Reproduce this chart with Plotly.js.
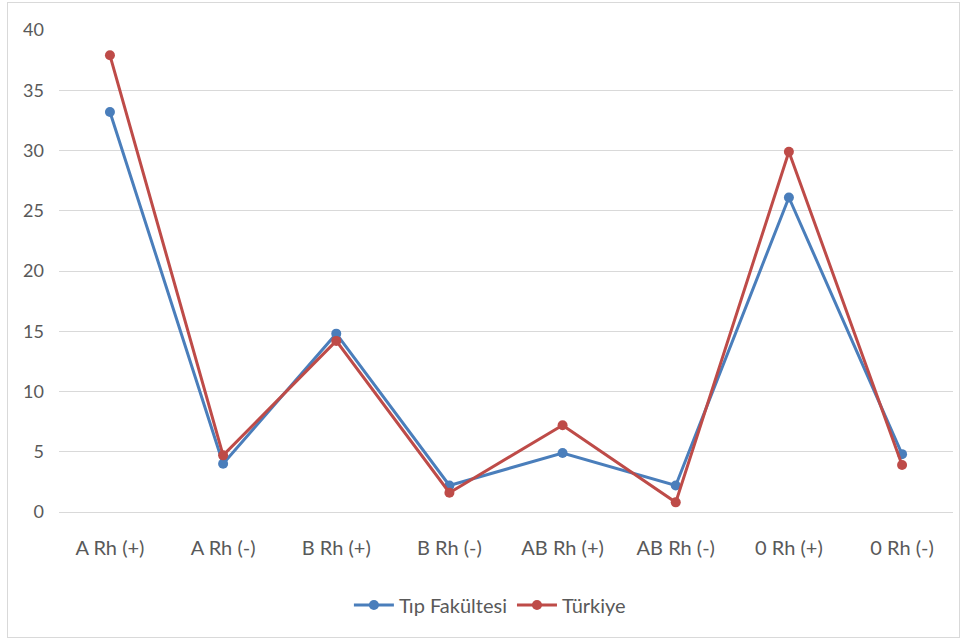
<!DOCTYPE html>
<html>
<head>
<meta charset="utf-8">
<script src="https://cdn.plot.ly/plotly-3.0.1.min.js"></script>
<style>
html,body{margin:0;padding:0;background:#fff;}
#chart{width:964px;height:641px;position:absolute;left:0;top:0;}
#frame{position:absolute;left:7px;top:2px;width:951px;height:634px;border:1px solid #d9d9d9;pointer-events:none;}
</style>
</head>
<body>
<div id="chart"></div>
<div id="frame"></div>
<script>
const categories = ["A Rh (+)", "A Rh (-)", "B Rh (+)", "B Rh (-)", "AB Rh (+)", "AB Rh (-)", "0 Rh (+)", "0 Rh (-)"];
const tipFakultesi = [33.2, 4.0, 14.8, 2.2, 4.9, 2.2, 26.1, 4.8];
const turkiye = [37.9, 4.7, 14.2, 1.6, 7.2, 0.8, 29.9, 3.9];
const yTicks = [0, 5, 10, 15, 20, 25, 30, 35, 40];

const font = {family: "Lato, Open Sans, sans-serif", size: 20, color: "#595959"};
const yfont = {family: "Lato, Open Sans, sans-serif", size: 18, color: "#595959"};

const traces = [
  {x: categories, y: tipFakultesi, name: "Tıp Fakültesi", type: "scatter", mode: "lines+markers",
   line: {color: "#4A7EBB", width: 3}, marker: {color: "#4A7EBB", size: 10}},
  {x: categories, y: turkiye, name: "Türkiye", type: "scatter", mode: "lines+markers",
   line: {color: "#BE4B48", width: 3}, marker: {color: "#BE4B48", size: 10}}
];

const layout = {
  width: 964, height: 641,
  margin: {l: 59, r: 11, t: 30, b: 129},
  paper_bgcolor: "#ffffff", plot_bgcolor: "#ffffff",
  font: font,
  showlegend: true,
  legend: {orientation: "h", x: 0.482, xanchor: "center", y: -0.193, yanchor: "middle", font: font,
           itemwidth: 40},
  xaxis: {type: "category", showgrid: false, showline: true, linecolor: "#d9d9d9", linewidth: 1,
          ticks: "", tickfont: font, zeroline: false, ticklabelstandoff: 18},
  yaxis: {range: [0, 40], tickvals: yTicks, showgrid: true, gridcolor: "#d9d9d9", gridwidth: 1,
          zeroline: false, showline: false, ticks: "", tickfont: yfont, ticklabelstandoff: 14}
};

Plotly.newPlot("chart", traces, layout, {displayModeBar: false, staticPlot: true});
</script>
</body>
</html>
